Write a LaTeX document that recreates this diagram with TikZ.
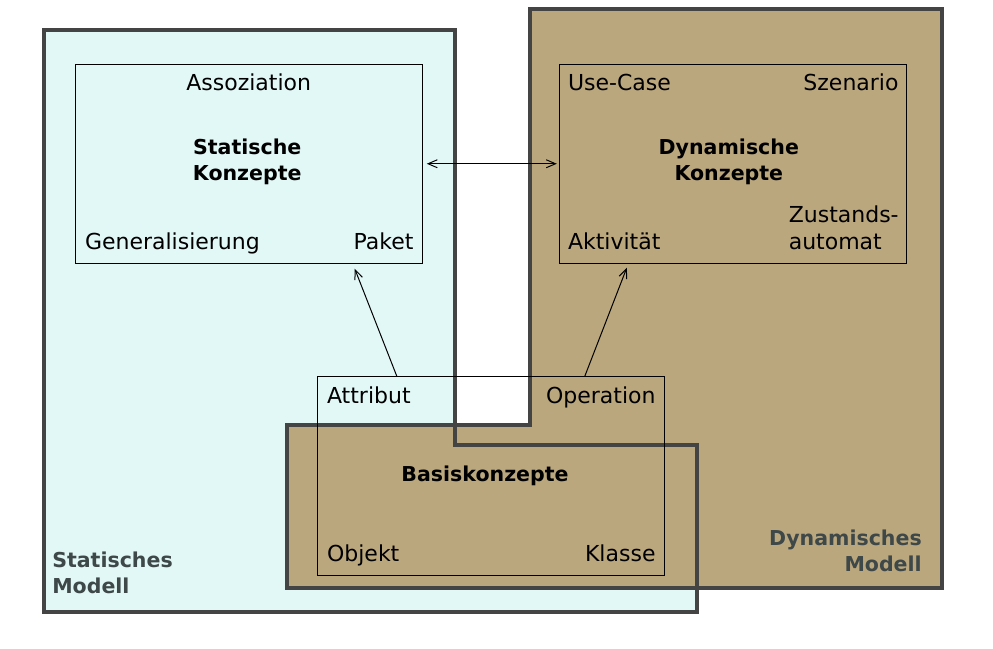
\documentclass[tikz,border=0pt]{standalone}
\usepackage{fontspec}
\setmainfont{DejaVu Sans}
\usetikzlibrary{arrows.meta,calc}
\definecolor{statikfill}{RGB}{226,248,247}
\definecolor{dynfill}{RGB}{187,167,125}
\definecolor{rand}{RGB}{68,68,68}
\definecolor{modelltext}{RGB}{62,72,72}
\begin{document}
\begin{tikzpicture}[x=.75pt,y=-.75pt,>={Straight Barb[length=7pt,width=6pt]},
	modell/.style={draw=rand,line width=3pt,line join=miter},
	konzept/.style={draw=black,line width=.75pt,minimum width=260.25pt,minimum height=149.25pt,inner sep=0pt},
	eintrag/.style={font=\fontsize{16.5}{20}\selectfont,inner sep=0pt},
	titel/.style={font=\fontsize{15.4}{19.5}\selectfont\bfseries,align=center,inner sep=0pt},
	mtitel/.style={titel,text=modelltext},
	pfeil/.style={line width=.75pt}]
	\useasboundingbox(0,0)rectangle(993,649);
	\fill[statikfill](43.5,30)--(455,30)--(455,445)--(697,445)--(697,612)--(43.5,612)--cycle;
	\fill[dynfill](530,9)--(942,9)--(942,588)--(287,588)--(287,425)--(530,425)--cycle;
	\draw[modell](43.5,30)--(455,30)--(455,445)--(697,445)--(697,612)--(43.5,612)--cycle;
	\draw[modell](530,9)--(942,9)--(942,588)--(287,588)--(287,425)--(530,425)--cycle;
	\node[konzept](statik)at(248.75,163.75){};
	\node[konzept](dynamik)at(732.8,163.75){};
	\node[konzept](basis)at(490.8,476.2){};
	\node[eintrag,anchor=base](assoz)at($(statik.north)+(0,26.5)$){Assoziation};
	\node[eintrag,anchor=base west](general)at($(statik.south west)+(10,-14.7)$){Generalisierung};
	\node[eintrag,anchor=base east](paket)at($(statik.south east)+(-9,-14.7)$){Paket};
	\node[titel,anchor=base](statiktitel)at($(statik.north)+(-1.5,117.2)$){Statische\\Konzepte};
	\node[eintrag,anchor=base west](usecase)at($(dynamik.north west)+(9,26.5)$){Use-Case};
	\node[eintrag,anchor=base east](szenario)at($(dynamik.north east)+(-8,26.5)$){Szenario};
	\node[eintrag,anchor=base west](aktiv)at($(dynamik.south west)+(9,-14.7)$){Aktivität};
	\node[eintrag,align=left,anchor=base west](zustand)at($(dynamik.south west)+(229.7,-14.7)$){Zustands-\\automat};
	\node[titel,anchor=base](dyntitel)at($(dynamik.north)+(-4,117.2)$){Dynamische\\Konzepte};
	\node[eintrag,anchor=base west](attribut)at($(basis.north west)+(10,27)$){Attribut};
	\node[eintrag,anchor=base east](operation)at($(basis.north east)+(-9,27)$){Operation};
	\node[eintrag,anchor=base west](objekt)at($(basis.south west)+(10,-14.5)$){Objekt};
	\node[eintrag,anchor=base east](klasse)at($(basis.south east)+(-9,-14.5)$){Klasse};
	\node[titel,anchor=base](basistitel)at($(basis.north)+(-5.8,105.4)$){Basiskonzepte};
	\node[mtitel,align=left,anchor=base west](statmodell)at(52,593.5){Statisches\\Modell};
	\node[mtitel,align=right,anchor=base east](dynmodell)at(922,571.7){Dynamisches\\Modell};
	\draw[pfeil,<->,shorten <=3pt,shorten >=1.5pt](statik.east)--(dynamik.west);
	\draw[pfeil,->]($(basis.north west)+(80,0)$)--($(statik.south west)+(280,5)$);
	\draw[pfeil,->]($(basis.north west)+(268,0)$)--($(dynamik.south west)+(68,4)$);
\end{tikzpicture}
\end{document}
